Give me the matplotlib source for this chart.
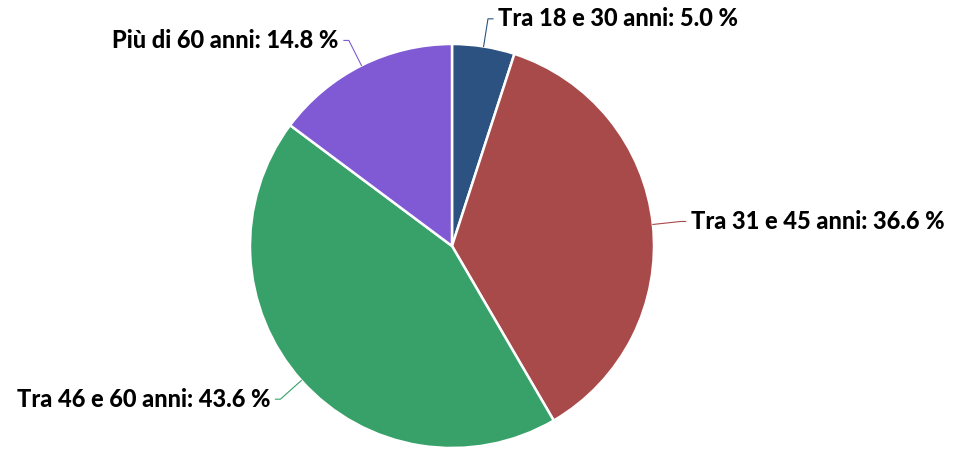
import numpy as np
import matplotlib
matplotlib.use("Agg")
import matplotlib.pyplot as plt

labels = ["Tra 18 e 30 anni", "Tra 31 e 45 anni", "Tra 46 e 60 anni", "Più di 60 anni"]
shares = [5.0, 36.6, 43.6, 14.8]
colors = ["#2C5282", "#A94A4A", "#38A169", "#805AD5"]

W, H = 954, 449
cx, cy, R = 452, 203, 202

fig = plt.figure(figsize=(W / 100, H / 100), dpi=100)
ax = fig.add_axes([0, 0, 1, 1])
wedges, _ = ax.pie(shares, colors=colors, startangle=90, counterclock=False,
                   center=(cx, cy), radius=R,
                   wedgeprops=dict(edgecolor="white", linewidth=1.8))
ax.set_xlim(0, W)
ax.set_ylim(0, H)
ax.set_aspect("equal")
ax.axis("off")

# connector: slice edge -> elbow -> short horizontal tail, then the label
for w, lab, val, col in zip(wedges, labels, shares, colors):
    ang = np.deg2rad((w.theta1 + w.theta2) / 2)
    ux, uy = np.cos(ang), np.sin(ang)
    p0 = (cx + R * ux, cy + R * uy)
    p1 = (cx + (R + 28) * ux, cy + (R + 28) * uy)
    side = 1 if ux >= 0 else -1
    p2 = (p1[0] + 5 * side, p1[1])
    ax.plot([p0[0], p1[0], p2[0]], [p0[1], p1[1], p2[1]], color=col, lw=0.8)
    ax.text(p2[0] + 5 * side, p2[1], f"{lab}: {val:.1f} %",
            ha="left" if side > 0 else "right", va="center",
            fontsize=17, fontweight="black",
            family=["Lato", "DejaVu Sans"])

fig.savefig("out.png", dpi=100)
